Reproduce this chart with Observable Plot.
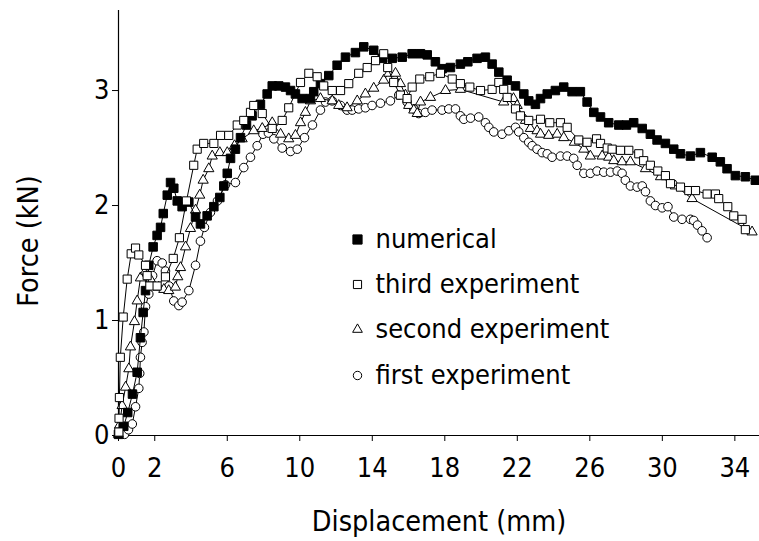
<!DOCTYPE html>
<html>
<head>
<meta charset="utf-8">
<script src="https://cdn.jsdelivr.net/npm/d3@7"></script>
<script src="https://cdn.jsdelivr.net/npm/@observablehq/plot@0.6"></script>
<style>
  html, body { margin: 0; padding: 0; background: #fff; }
  #chart { width: 759px; height: 541px; }
</style>
</head>
<body>
<div id="chart"></div>
<script>
// ---- Data (displacement in mm, force in kN) ----
const numX = [0, 0.29, 0.51, 0.77, 1.03, 1.21, 1.36, 1.49, 1.67, 1.91, 2.13, 2.32, 2.47, 2.69, 2.87, 3.05, 3.24, 3.51, 3.88, 4.25, 4.52, 4.89, 5.26, 5.59, 5.81, 6.00, 6.18, 6.45, 6.73, 7.06, 7.37, 7.83, 8.20, 8.48, 8.84, 9.21, 9.49, 9.76, 10.13, 10.59, 10.77, 11.14, 11.60, 12.06, 12.52, 13.07, 13.53, 14.08, 14.55, 15.10, 15.65, 16.20, 16.66, 17.03, 17.48, 17.85, 18.31, 18.86, 19.27, 19.78, 20.24, 20.61, 20.98, 21.44, 21.90, 22.36, 22.63, 23.00, 23.28, 23.65, 24.10, 24.56, 25.02, 25.48, 25.85, 26.22, 26.59, 27.04, 27.60, 28.02, 28.42, 28.89, 29.34, 29.71, 30.17, 30.63, 31.00, 31.55, 32.10, 32.75, 33.20, 33.57, 34.03, 34.58, 35.13];
const numY = [0.01, 0.08, 0.20, 0.36, 0.55, 0.85, 1.07, 1.26, 1.48, 1.64, 1.74, 1.81, 1.93, 2.09, 2.20, 2.15, 2.04, 1.99, 2.03, 1.90, 1.84, 1.91, 1.99, 2.07, 2.17, 2.28, 2.41, 2.49, 2.59, 2.70, 2.78, 2.88, 2.97, 3.04, 3.04, 3.03, 3.00, 2.97, 2.93, 2.93, 2.99, 3.06, 3.13, 3.22, 3.29, 3.33, 3.38, 3.35, 3.28, 3.28, 3.29, 3.32, 3.32, 3.31, 3.25, 3.19, 3.20, 3.23, 3.25, 3.28, 3.29, 3.23, 3.16, 3.09, 3.04, 2.97, 2.91, 2.88, 2.93, 2.97, 3.00, 3.03, 2.99, 2.99, 2.90, 2.81, 2.77, 2.72, 2.70, 2.70, 2.72, 2.67, 2.62, 2.57, 2.54, 2.49, 2.45, 2.43, 2.46, 2.42, 2.38, 2.32, 2.26, 2.25, 2.22];

const thirdX = [0.02, 0.03, 0.05, 0.10, 0.26, 0.48, 0.70, 0.94, 1.12, 1.49, 1.58, 1.73, 2.13, 2.59, 3.02, 3.36, 3.75, 4.15, 4.34, 4.70, 5.26, 5.63, 6.08, 6.55, 6.91, 7.28, 7.46, 7.93, 8.48, 9.03, 9.39, 10.04, 10.50, 10.96, 11.32, 11.79, 12.25, 12.70, 13.25, 13.72, 14.18, 14.63, 14.85, 15.18, 15.55, 15.92, 16.20, 16.62, 17.17, 17.76, 18.41, 18.86, 19.38, 19.97, 20.61, 20.98, 21.25, 21.44, 21.90, 22.17, 22.63, 23.28, 23.79, 24.38, 24.75, 25.39, 25.85, 26.37, 26.59, 26.96, 27.23, 27.69, 28.15, 28.70, 28.97, 29.34, 29.75, 30.17, 30.45, 31.00, 31.46, 31.83, 32.47, 32.93, 33.11, 33.61, 33.94, 34.40, 34.58];
const thirdY = [0.03, 0.15, 0.33, 0.68, 1.03, 1.36, 1.58, 1.63, 1.57, 1.48, 1.39, 1.30, 1.30, 1.38, 1.54, 1.72, 2.04, 2.35, 2.49, 2.54, 2.54, 2.61, 2.61, 2.70, 2.74, 2.81, 2.87, 2.80, 2.67, 2.74, 2.85, 3.07, 3.15, 3.12, 3.04, 3.00, 3.00, 3.06, 3.15, 3.20, 3.26, 3.32, 3.20, 3.07, 2.96, 2.93, 3.03, 3.10, 3.12, 3.15, 3.10, 3.06, 3.03, 3.00, 3.01, 3.07, 3.01, 2.94, 2.84, 2.78, 2.74, 2.75, 2.72, 2.72, 2.68, 2.57, 2.55, 2.58, 2.54, 2.50, 2.49, 2.48, 2.48, 2.45, 2.39, 2.35, 2.30, 2.26, 2.19, 2.16, 2.13, 2.13, 2.10, 2.10, 2.06, 1.99, 1.91, 1.88, 1.79];

const secondX = [0.00, 0.06, 0.20, 0.39, 0.57, 0.66, 0.88, 1.03, 1.21, 1.49, 1.76, 2.22, 2.50, 2.77, 3.14, 3.27, 3.42, 3.70, 3.97, 4.25, 4.48, 4.67, 4.98, 5.17, 5.59, 6.00, 6.40, 6.82, 7.46, 7.93, 8.48, 8.94, 9.39, 9.76, 10.04, 10.31, 10.59, 11.14, 11.79, 12.15, 12.61, 13.17, 13.62, 14.08, 14.63, 14.91, 15.28, 15.55, 15.83, 16.01, 16.29, 16.48, 16.66, 17.21, 18.04, 18.86, 21.25, 21.79, 21.99, 22.45, 22.72, 23.09, 23.28, 23.73, 24.20, 24.56, 25.15, 25.67, 26.03, 26.68, 27.04, 27.32, 27.78, 28.24, 29.07, 29.90, 30.72, 31.64, 34.95];
const secondY = [0.01, 0.09, 0.26, 0.42, 0.58, 0.77, 0.99, 1.17, 1.37, 1.43, 1.36, 1.29, 1.27, 1.26, 1.29, 1.38, 1.46, 1.64, 1.80, 1.96, 2.09, 2.22, 2.32, 2.43, 2.46, 2.46, 2.52, 2.58, 2.65, 2.67, 2.72, 2.62, 2.58, 2.61, 2.72, 2.81, 2.91, 2.93, 2.91, 2.87, 2.85, 2.91, 2.97, 3.02, 3.09, 3.15, 3.15, 3.06, 2.96, 2.87, 2.83, 2.80, 2.90, 2.94, 3.00, 3.01, 2.90, 2.93, 2.87, 2.74, 2.67, 2.65, 2.62, 2.61, 2.62, 2.59, 2.55, 2.49, 2.43, 2.43, 2.42, 2.39, 2.38, 2.38, 2.32, 2.25, 2.17, 2.06, 1.77];

const firstX = [0.33, 0.55, 0.76, 0.94, 1.12, 1.17, 1.21, 1.30, 1.40, 1.49, 1.67, 1.88, 2.13, 2.41, 2.59, 2.79, 3.05, 3.33, 3.51, 3.88, 4.25, 4.52, 4.74, 5.07, 5.46, 5.90, 6.45, 6.91, 7.28, 7.65, 7.97, 8.27, 8.57, 9.03, 9.49, 9.86, 10.26, 10.70, 11.14, 11.42, 11.79, 12.25, 12.61, 12.89, 13.25, 13.62, 13.99, 14.45, 15.00, 15.46, 15.92, 16.29, 16.56, 16.93, 17.30, 17.85, 18.22, 18.59, 18.86, 19.05, 19.42, 19.87, 20.24, 20.43, 20.70, 21.16, 21.53, 21.90, 22.08, 22.36, 22.63, 22.82, 23.09, 23.37, 23.65, 23.92, 24.38, 24.75, 25.11, 25.30, 25.67, 26.03, 26.40, 26.77, 27.14, 27.51, 27.78, 27.96, 28.24, 28.61, 28.89, 29.07, 29.34, 29.62, 29.99, 30.31, 30.63, 31.09, 31.55, 31.73, 31.94, 32.19, 32.47];
const firstY = [0.01, 0.05, 0.10, 0.25, 0.41, 0.54, 0.68, 0.81, 0.90, 1.12, 1.23, 1.39, 1.52, 1.50, 1.43, 1.30, 1.17, 1.13, 1.16, 1.26, 1.48, 1.69, 1.81, 1.94, 2.04, 2.18, 2.20, 2.33, 2.42, 2.52, 2.62, 2.63, 2.58, 2.50, 2.47, 2.49, 2.59, 2.70, 2.83, 2.90, 2.91, 2.87, 2.83, 2.83, 2.84, 2.85, 2.87, 2.89, 2.91, 2.96, 2.90, 2.84, 2.80, 2.81, 2.83, 2.83, 2.84, 2.84, 2.78, 2.75, 2.76, 2.77, 2.72, 2.68, 2.64, 2.62, 2.65, 2.68, 2.64, 2.59, 2.55, 2.52, 2.49, 2.46, 2.45, 2.42, 2.43, 2.43, 2.41, 2.35, 2.28, 2.28, 2.30, 2.29, 2.29, 2.30, 2.28, 2.22, 2.17, 2.16, 2.17, 2.12, 2.04, 2.00, 1.98, 1.99, 1.90, 1.88, 1.88, 1.87, 1.83, 1.78, 1.72];

const xTicks = [0, 2, 6, 10, 14, 18, 22, 26, 30, 34];
const yTicks = [0, 1, 2, 3];
const legendLabels = ["numerical", "third experiment", "second experiment", "first experiment"];
const xLabel = "Displacement (mm)";
const yLabel = "Force (kN)";

const zip = (xs, ys) => xs.map((x, i) => ({x, y: ys[i]}));
const numerical = zip(numX, numY);
const third = zip(thirdX, thirdY);
const second = zip(secondX, secondY);
const first = zip(firstX, firstY);

const FONT = '"DejaVu Sans Condensed", "DejaVu Sans", sans-serif';
const TICKFONT = '"Liberation Sans Narrow", "DejaVu Sans Condensed", sans-serif';

// legend rows (pixel offsets from frame top-left)
const legendRows = [
  {symbol: "square", fill: "black", r: 5.2, dy: 229},
  {symbol: "square", fill: "white", r: 4.6, dy: 274},
  {symbol: "triangle", fill: "white", r: 3.6, dy: 319},
  {symbol: "circle", fill: "white", r: 4.2, dy: 365}
];

const legendMarks = legendRows.flatMap((row, i) => [
  Plot.dot([0], {frameAnchor: "top-left", dx: 239, dy: row.dy, symbol: row.symbol, r: row.r, fill: row.fill, stroke: "black", strokeWidth: 1}),
  Plot.text([legendLabels[i]], {frameAnchor: "top-left", dx: 257, dy: row.dy, text: d => d, textAnchor: "start", lineAnchor: "middle", fontSize: 27, fill: "black"})
]);

const series = [
  {data: first, symbol: "circle", fill: "white", r: 4.3},
  {data: second, symbol: "triangle", fill: "white", r: 3.8},
  {data: numerical, symbol: "square", fill: "black", r: 4.8},
  {data: third, symbol: "square", fill: "white", r: 4.6}
];

const seriesMarks = series.flatMap(s => [
  Plot.line(s.data, {x: "x", y: "y", stroke: "black", strokeWidth: 1}),
  Plot.dot(s.data, {x: "x", y: "y", symbol: s.symbol, r: s.r, fill: s.fill, stroke: "black", strokeWidth: 1})
]);

const chart = Plot.plot({
  width: 759,
  height: 541,
  marginLeft: 118,
  marginRight: 0,
  marginTop: 10,
  marginBottom: 106,
  style: {fontFamily: FONT, background: "white", color: "black", overflow: "visible"},
  x: {domain: [0, 35.36]},
  y: {domain: [0, 3.696]},
  marks: [
    Plot.axisX({ticks: xTicks, tickSize: 6, tickPadding: 16, fontSize: 27, fontFamily: TICKFONT, label: null, tickFormat: d => String(d)}),
    Plot.axisY({ticks: yTicks, tickSize: 6, tickPadding: 3, fontSize: 27, fontFamily: TICKFONT, label: null, tickFormat: d => String(d)}),
    Plot.ruleY([0], {stroke: "black", strokeWidth: 1.2}),
    Plot.ruleX([0], {stroke: "black", strokeWidth: 1.2}),
    ...seriesMarks,
    ...legendMarks,
    Plot.text([xLabel], {frameAnchor: "bottom", dy: 86, text: d => d, textAnchor: "middle", lineAnchor: "middle", fontSize: 28.5, fill: "black"}),
    Plot.text([yLabel], {frameAnchor: "left", dx: -90, dy: 18, rotate: -90, text: d => d, textAnchor: "middle", lineAnchor: "middle", fontSize: 28.5, fill: "black"})
  ]
});

document.getElementById("chart").appendChild(chart);
</script>
</body>
</html>
